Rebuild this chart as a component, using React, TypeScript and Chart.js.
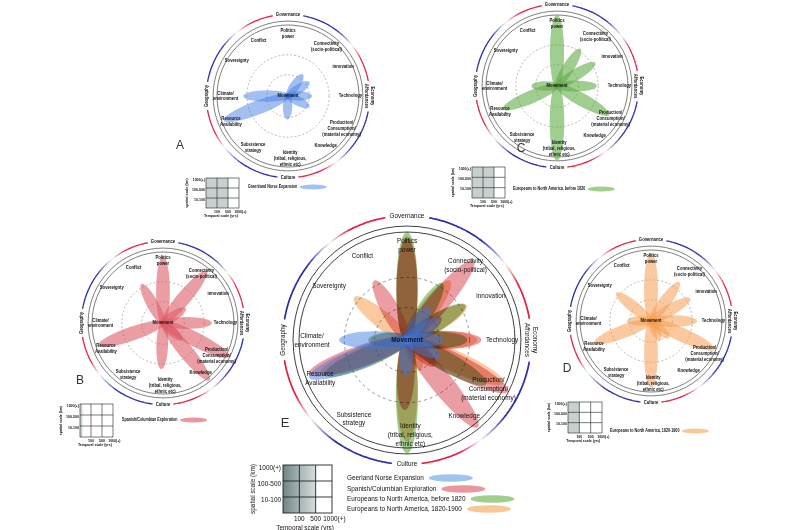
import React, { useEffect, useRef } from "react";
import { Chart, registerables } from "chart.js";

Chart.register(...registerables);

const W = 800;
const H = 530;
const FONT = '"Liberation Sans", Arial, sans-serif';
const NARROW = 0.8;

// ---------- data ----------
const categoryLabels: string[][] = [
  ["Politics", "power"],
  ["Connectivity", "(socio-political)"],
  ["innovation"],
  ["Technology"],
  ["Production/", "Consumption/", "(material economy)"],
  ["Knowledge"],
  ["Identity", "(tribal, religious,", "ethnic etc)"],
  ["Subsistence", "strategy"],
  ["Resource", "Availability"],
  ["Climate/", "environment"],
  ["Sovereignty"],
  ["Conflict"],
];
const categoryAngles = [90, 52, 28, 0, -31, -53, -88, -124, -156, 180, 145, 118];

const domainLabels: string[][] = [["Governance"], ["Economy", "Affordances"], ["Culture"], ["Geography"]];
const domainAngles = [90, 0, -90, 180];

const seriesNames = [
  "Greenland Norse Expansion",
  "Spanish/Columbian Exploration",
  "Europeans to North America, before 1820",
  "Europeans to North America, 1820-1900",
];
const combinedLegendNames = [
  "Geerland Norse Expansion",
  "Spanish/Columbian Exploration",
  "Europeans to North America, before 1820",
  "Europeans to North America, 1820-1900",
];

// petals: direction (deg) and reach (fraction of inner circle radius)
const norseAngles = [180, 201, 56, 33, 0, -27, -92];
const norseLengths = [0.63, 0.97, 0.37, 0.36, 0.34, 0.34, 0.33];
const spanishAngles = [90, 50, 119, 0, 33, -27, -51, 199, -92, -42];
const spanishLengths = [0.94, 0.96, 0.63, 0.69, 0.38, 1.05, 1.04, 0.96, 0.65, 0.36];
const before1820Angles = [90, -90, 203, -29, 0, 31, 58, 180];
const before1820Lengths = [1.0, 1.05, 0.83, 0.84, 0.56, 0.63, 0.62, 0.36];
const after1820Angles = [90, 54, 30, 0, -24, -90, 201, 141, 180, -43, -65];
const after1820Lengths = [0.96, 0.68, 0.64, 0.65, 0.98, 0.94, 0.86, 0.63, 0.34, 0.35, 0.3];

const seriesAngles = [norseAngles, spanishAngles, before1820Angles, after1820Angles];
const seriesLengths = [norseLengths, spanishLengths, before1820Lengths, after1820Lengths];

// temporal extent shaded in the scale boxes (number of columns)
const temporalShade = [2, 0.22, 2, 1];
const spatialTicks = ["1000(+)", "100-500", "10-100"];
const temporalTicks = ["100", "500", "1000(+)"];

// ---------- styles / layout ----------
const seriesColors = ["rgb(60,122,228)", "rgb(222,92,104)", "rgb(96,172,70)", "rgb(246,156,80)"];
const seriesAlpha = [0.48, 0.6, 0.6, 0.55];
const seriesBlend: GlobalCompositeOperation[] = ["source-over", "multiply", "multiply", "multiply"];
const legendColors = ["rgb(160,196,240)", "rgb(234,150,158)", "rgb(160,206,140)", "rgb(250,200,152)"];
const drawOrder = [3, 2, 1, 0];

type Panel = {
  cx: number; cy: number; u: number; series: number[]; letter: string; lx: number; ly: number; big: boolean;
};
const panels: Panel[] = [
  { cx: 288, cy: 96, u: 71, series: [0], letter: "A", lx: 180, ly: 146, big: false },
  { cx: 557, cy: 86, u: 71, series: [2], letter: "C", lx: 521, ly: 149, big: false },
  { cx: 163, cy: 323, u: 71, series: [1], letter: "B", lx: 80, ly: 381, big: false },
  { cx: 651, cy: 321, u: 71, series: [3], letter: "D", lx: 567, ly: 369, big: false },
  { cx: 407, cy: 340, u: 108, series: [0, 1, 2, 3], letter: "E", lx: 285, ly: 423, big: true },
];

type Box = { x: number; y: number; w: number; h: number; series: number; tx: number; ty: number };
const boxes: Box[] = [
  { x: 206, y: 178, w: 33, h: 30, series: 0, tx: 248, ty: 187 },
  { x: 472, y: 167, w: 33, h: 31, series: 2, tx: 513, ty: 189 },
  { x: 80, y: 404, w: 33, h: 33, series: 1, tx: 122, ty: 420 },
  { x: 568, y: 402, w: 34, h: 31, series: 3, tx: 610, ty: 431 },
];
const bigBox = { x: 283, y: 465, w: 49, h: 48 };
const bigLegend = { x: 347, ys: [478, 489, 499, 509] };

function lerp(a: number[], b: number[], t: number) {
  return a.map((v, i) => Math.round(v + (b[i] - v) * t));
}
function arcColor(t: number) {
  const blue = [40, 40, 170], white = [250, 248, 252], red = [225, 30, 62];
  let c: number[];
  if (t < 0.38) c = blue;
  else if (t < 0.6) c = lerp(blue, white, (t - 0.38) / 0.22);
  else if (t < 0.76) c = lerp(white, red, (t - 0.6) / 0.16);
  else c = red;
  return `rgb(${c[0]},${c[1]},${c[2]})`;
}

function ntext(ctx: CanvasRenderingContext2D, s: string, x: number, y: number) {
  ctx.save();
  ctx.translate(x, y);
  ctx.scale(NARROW, 1);
  ctx.fillText(s, 0, 0);
  ctx.restore();
}
function nwidth(ctx: CanvasRenderingContext2D, s: string) {
  return ctx.measureText(s).width * NARROW;
}
function drawLines(ctx: CanvasRenderingContext2D, lines: string[], x: number, y: number, fs: number) {
  const lh = fs * 1.12;
  const top = y - ((lines.length - 1) * lh) / 2;
  lines.forEach((l, i) => ntext(ctx, l, x, top + i * lh));
}

let layer: HTMLCanvasElement | null = null;
function getLayer(w: number, h: number) {
  if (!layer) layer = document.createElement("canvas");
  if (layer.width !== w || layer.height !== h) {
    layer.width = w;
    layer.height = h;
  }
  return layer;
}

function drawPanel(chart: any, p: Panel) {
  const ctx: CanvasRenderingContext2D = chart.ctx;
  const xs = chart.scales.x, ys = chart.scales.y;
  const cx = xs.getPixelForValue(p.cx);
  const cy = ys.getPixelForValue(p.cy);
  const k = xs.getPixelForValue(p.u) - xs.getPixelForValue(0);
  const pt = (deg: number, r: number) => {
    const a = (deg * Math.PI) / 180;
    return [cx + r * Math.cos(a), cy - r * Math.sin(a)];
  };
  const fs = 0.074 * k;
  const weight = p.big ? "normal" : "bold";

  // outer domain arcs
  const rA = 1.15 * k;
  ctx.font = `${weight} ${fs}px ${FONT}`;
  const gaps = domainLabels.map((lines) => {
    const w = Math.max(...lines.map((l) => nwidth(ctx, l)));
    return ((w / 2 + fs * 0.6) / rA) * (180 / Math.PI);
  });
  ctx.lineWidth = p.big ? 1.6 : 1.2;
  ctx.lineCap = "butt";
  for (let q = 0; q < 4; q++) {
    const start = domainAngles[q] - gaps[q];
    let target = domainAngles[(q + 1) % 4] + gaps[(q + 1) % 4];
    while (target > start) target -= 360;
    const steps = 90;
    for (let i = 0; i < steps; i++) {
      const t0 = i / steps, t1 = (i + 1) / steps;
      const s = start + (target - start) * t0;
      const e = start + (target - start) * t1;
      ctx.strokeStyle = arcColor((t0 + t1) / 2);
      ctx.beginPath();
      ctx.arc(cx, cy, rA, (-s * Math.PI) / 180, (-e * Math.PI) / 180 + 0.004, false);
      ctx.stroke();
    }
  }
  // domain labels
  ctx.fillStyle = "#111";
  ctx.textAlign = "center";
  ctx.textBaseline = "middle";
  domainLabels.forEach((lines, i) => {
    const [x, y] = pt(domainAngles[i], rA);
    ctx.save();
    ctx.translate(x, y);
    if (domainAngles[i] === 180) ctx.rotate(-Math.PI / 2);
    if (domainAngles[i] === 0) ctx.rotate(Math.PI / 2);
    drawLines(ctx, lines, 0, 0, fs);
    ctx.restore();
  });

  // black rings
  ctx.strokeStyle = "#2a2a2a";
  ctx.lineWidth = p.big ? 0.9 : 0.6;
  [1.0, 1.055].forEach((r) => {
    ctx.beginPath();
    ctx.arc(cx, cy, r * k, 0, Math.PI * 2);
    ctx.stroke();
  });
  // dashed rings
  ctx.save();
  ctx.strokeStyle = "#8a8a8a";
  ctx.lineWidth = p.big ? 0.9 : 0.6;
  ctx.setLineDash(p.big ? [3, 3] : [2, 2]);
  [0.58, 0.3].forEach((r) => {
    ctx.beginPath();
    ctx.arc(cx, cy, r * k, 0, Math.PI * 2);
    ctx.stroke();
  });
  ctx.restore();

  // petals: each series on its own layer, then composited
  const lay = getLayer(chart.width, chart.height);
  const lc = lay.getContext("2d") as CanvasRenderingContext2D;
  drawOrder.filter((si) => p.series.includes(si)).forEach((si) => {
    lc.setTransform(1, 0, 0, 1, 0, 0);
    lc.clearRect(0, 0, lay.width, lay.height);
    lc.globalAlpha = seriesAlpha[si];
    lc.fillStyle = seriesColors[si];
    seriesAngles[si].forEach((deg, j) => {
      const len = seriesLengths[si][j];
      const back = 0.04;
      const [ex, ey] = pt(deg, ((len - back) / 2) * k);
      const rx = ((len + back) / 2) * k;
      const ry = ((0.1 + 0.1 * len) / 2) * k;
      lc.beginPath();
      lc.ellipse(ex, ey, rx, ry, (-deg * Math.PI) / 180, 0, Math.PI * 2);
      lc.fill();
    });
    ctx.save();
    ctx.setTransform(1, 0, 0, 1, 0, 0);
    ctx.globalCompositeOperation = p.series.length === 1 ? "source-over" : seriesBlend[si];
    ctx.drawImage(lay, 0, 0);
    ctx.restore();
  });

  // category labels
  ctx.fillStyle = "#111";
  ctx.textAlign = "center";
  ctx.textBaseline = "middle";
  ctx.font = `${weight} ${fs}px ${FONT}`;
  categoryLabels.forEach((lines, i) => {
    const [x, y] = pt(categoryAngles[i], 0.88 * k);
    drawLines(ctx, lines, x, y, fs);
  });
  ctx.font = `bold ${fs}px ${FONT}`;
  ntext(ctx, "Movement", cx, cy);

  // panel letter
  ctx.font = `${p.big ? 13 : 12}px ${FONT}`;
  ctx.fillStyle = "#333";
  ctx.fillText(p.letter, xs.getPixelForValue(p.lx), ys.getPixelForValue(p.ly));
}

function drawScaleBox(chart: any, b: { x: number; y: number; w: number; h: number }, shade: number, big: boolean) {
  const ctx: CanvasRenderingContext2D = chart.ctx;
  const xs = chart.scales.x, ys = chart.scales.y;
  const x = xs.getPixelForValue(b.x), y = ys.getPixelForValue(b.y);
  const w = xs.getPixelForValue(b.x + b.w) - x, h = ys.getPixelForValue(b.y + b.h) - y;
  const cw = w / 3, rh = h / 3;
  if (big) {
    const g = ctx.createLinearGradient(x, 0, x + cw * shade, 0);
    g.addColorStop(0, "rgb(112,132,132)");
    g.addColorStop(0.5, "rgb(166,180,180)");
    g.addColorStop(1, "rgb(214,220,220)");
    ctx.fillStyle = g;
  } else {
    ctx.fillStyle = "rgb(200,207,207)";
  }
  ctx.fillRect(x, y, cw * shade, h);
  ctx.strokeStyle = "#222";
  ctx.lineWidth = big ? 0.9 : 0.6;
  ctx.strokeRect(x, y, w, h);
  ctx.beginPath();
  for (let i = 1; i < 3; i++) {
    ctx.moveTo(x + cw * i, y);
    ctx.lineTo(x + cw * i, y + h);
    ctx.moveTo(x, y + rh * i);
    ctx.lineTo(x + w, y + rh * i);
  }
  ctx.stroke();
  const fs = big ? 8 : 4.4;
  ctx.fillStyle = "#111";
  ctx.font = `${big ? "normal" : "bold"} ${fs}px ${FONT}`;
  ctx.textAlign = "right";
  ctx.textBaseline = "middle";
  spatialTicks.forEach((t, i) => ntext(ctx, t, x - fs * 0.25, y + rh * i + fs * 0.3));
  ctx.textAlign = "center";
  temporalTicks.forEach((t, i) => ntext(ctx, t, x + cw * (i + 1) + (i === 2 ? fs * 0.3 : 0), y + h + fs * 0.75));
  ntext(ctx, "Temporal scale (yrs)", x + w * 0.45, y + h + fs * 1.85);
  ctx.save();
  ctx.translate(x - (big ? 30 : 19), y + h / 2);
  ctx.rotate(-Math.PI / 2);
  ntext(ctx, "spatial scale (km)", 0, 0);
  ctx.restore();
}

function drawLegendEntry(chart: any, name: string, si: number, tx: number, ty: number, big: boolean) {
  const ctx: CanvasRenderingContext2D = chart.ctx;
  const xs = chart.scales.x, ys = chart.scales.y;
  const fs = big ? 8 : 4.6;
  ctx.fillStyle = "#111";
  ctx.font = `${big ? "normal" : "bold"} ${fs}px ${FONT}`;
  ctx.textAlign = "left";
  ctx.textBaseline = "middle";
  const x = xs.getPixelForValue(tx), y = ys.getPixelForValue(ty);
  ntext(ctx, name, x, y);
  const rx = big ? 22 : 13.5;
  const ex = x + nwidth(ctx, name) + (big ? 5 : 2.5) + rx;
  ctx.fillStyle = legendColors[si];
  ctx.beginPath();
  ctx.ellipse(ex, y, rx, big ? 3.8 : 2.6, 0, 0, Math.PI * 2);
  ctx.fill();
}

const figurePlugin = {
  id: "figure",
  beforeDraw(chart: any) {
    const ctx = chart.ctx;
    ctx.save();
    ctx.fillStyle = "#fff";
    ctx.fillRect(0, 0, chart.width, chart.height);
    ctx.restore();
  },
  afterDraw(chart: any) {
    const ctx = chart.ctx;
    ctx.save();
    panels.forEach((p) => drawPanel(chart, p));
    boxes.forEach((b) => {
      drawScaleBox(chart, b, temporalShade[b.series], false);
      drawLegendEntry(chart, seriesNames[b.series], b.series, b.tx, b.ty, false);
    });
    drawScaleBox(chart, bigBox, 2, true);
    combinedLegendNames.forEach((n, i) => drawLegendEntry(chart, n, i, bigLegend.x, bigLegend.ys[i], true));
    ctx.restore();
  },
};

export default function App() {
  const ref = useRef<HTMLCanvasElement>(null);
  useEffect(() => {
    if (!ref.current) return;
    const chart = new Chart(ref.current, {
      type: "scatter",
      data: {
        datasets: seriesNames.map((n, i) => ({
          label: n,
          data: [],
          backgroundColor: legendColors[i],
          pointRadius: 0,
        })),
      },
      options: {
        animation: false,
        responsive: false,
        maintainAspectRatio: false,
        layout: { padding: 0 },
        plugins: { legend: { display: false }, tooltip: { enabled: false } },
        scales: {
          x: { type: "linear", min: 0, max: W, display: false },
          y: { type: "linear", min: 0, max: H, reverse: true, display: false },
        },
      },
      plugins: [figurePlugin],
    });
    return () => chart.destroy();
  }, []);
  return (
    <div style={{ position: "fixed", left: 0, top: 0, width: W, height: H, background: "#fff" }}>
      <canvas ref={ref} width={W} height={H} style={{ display: "block", width: W, height: H }} />
    </div>
  );
}
